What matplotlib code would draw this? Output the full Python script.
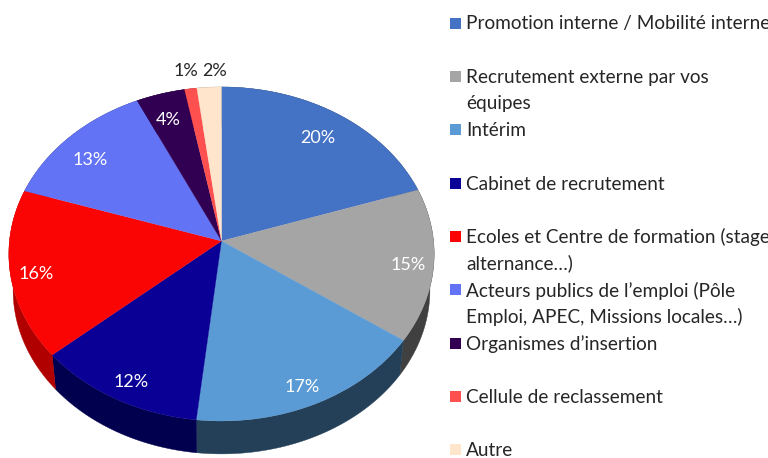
import numpy as np
import matplotlib
matplotlib.use("Agg")
import matplotlib.pyplot as plt
from matplotlib.patches import Polygon, Rectangle
from matplotlib.transforms import Transform

categories = [
    "Promotion interne / Mobilité interne",
    "Recrutement externe par vos\néquipes",
    "Intérim",
    "Cabinet de recrutement",
    "Ecoles et Centre de formation (stage,\nalternance…)",
    "Acteurs publics de l’emploi (Pôle\nEmploi, APEC, Missions locales…)",
    "Organismes d’insertion",
    "Cellule de reclassement",
    "Autre",
]
values = [19.9, 14.8, 17.05, 11.95, 16.3, 13, 4, 1, 2]
colors = ["#4472C4", "#A5A5A5", "#5B9BD5", "#0A0096", "#FB0404",
          "#6373F5", "#320052", "#FF5050", "#FFE5CC"]
side_colors = ["#2A4475", "#404040", "#244058", "#00004F", "#B00000",
               "#3B4592", "#1E0031", "#993030", "#99897A"]
label_colors = ["white"] * 7 + ["#262626"] * 2
label_pos = [(318, 138), (408, 265), (302, 387), (131, 382), (36, 274),
             (90, 160), (168, 120), (186, 71), (215, 71)]

CX, CY, A, B, K = 221.5, 241.0, 212.0, 166.0, 0.0778
S, D = 0.98, 36.5


def project(xy):
    xy = np.asarray(xy, float)
    w = 1 + K * xy[..., 1]
    return np.stack([CX + A * xy[..., 0] / w, CY - B * xy[..., 1] / w], axis=-1)


class Tilt(Transform):
    input_dims = output_dims = 2
    is_separable = False
    has_inverse = False

    def transform_non_affine(self, xy):
        return project(xy)


plt.rcParams["font.family"] = ["Lato", "DejaVu Sans"]
fig = plt.figure(figsize=(7.68, 4.58), dpi=100)
ax = fig.add_axes([0, 0, 1, 1])
ax.axis("off")

wedges, _ = ax.pie(values, colors=colors, startangle=90, counterclock=False, radius=1.0)
ax.set_aspect("auto")
ax.set_xlim(0, 768)
ax.set_ylim(458, 0)
tilt = Tilt()

# pie side: extruded rim of each slice, drawn below the tilted top faces
for w, c in zip(wedges, side_colors):
    t = np.radians(np.linspace(w.theta1, w.theta2, 60))
    rim = project(np.column_stack([np.cos(t), np.sin(t)]))
    low = np.column_stack([CX + S * (rim[:, 0] - CX), CY + S * (rim[:, 1] - CY) + D])
    ax.add_patch(Polygon(np.vstack([rim, low[::-1]]), closed=True, fc=c, ec=c, lw=0.3, zorder=1))

for w in wedges:
    w.set_transform(tilt + ax.transData)
    w.set_zorder(2)
    w.set_edgecolor(w.get_facecolor())
    w.set_linewidth(0.2)

for v, (x, y), c in zip(values, label_pos, label_colors):
    ax.text(x, y, f"{round(v)}%", color=c, fontsize=13, ha="center", va="center", zorder=3)

# legend
for i, (name, c) in enumerate(zip(categories, colors)):
    y = 23 + 53.35 * i
    ax.add_patch(Rectangle((450, y - 5.5), 11, 11, fc=c, ec="none", zorder=3))
    for j, line in enumerate(name.split("\n")):
        ax.text(466, y + 1 + 26.3 * j, line, color="#262626", fontsize=13.7,
                ha="left", va="center", zorder=3)

fig.savefig("out.png", dpi=100)
